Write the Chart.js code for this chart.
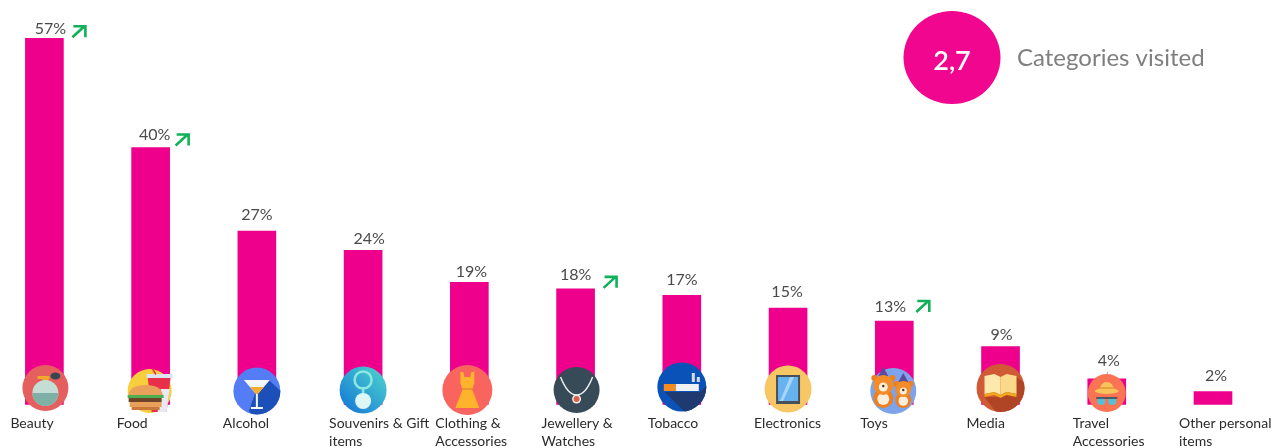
<!DOCTYPE html>
<html>
<head>
<meta charset="utf-8">
<title>Categories visited</title>
<script src="https://cdn.jsdelivr.net/npm/chart.js@4"></script>
<style>
  html, body { margin: 0; padding: 0; background: #fff; }
  canvas { display: block; }
</style>
</head>
<body>
<canvas id="grafico" width="1271" height="448"></canvas>
<script>
const categorias = [
  ['Beauty'], ['Food'], ['Alcohol'], ['Souvenirs & Gift', 'items'],
  ['Clothing &', 'Accessories'], ['Jewellery &', 'Watches'], ['Tobacco'], ['Electronics'],
  ['Toys'], ['Media'], ['Travel', 'Accessories'], ['Other personal', 'items']
];
const valores = [57, 40, 27, 24, 19, 18, 17, 15, 13, 9, 4, 2];
const enAumento = [true, true, false, false, false, true, false, false, true, false, false, false];
const promedioVisitadas = '2,7';
const textoPromedio = 'Categories visited';

const ROSA = '#EE008C';
const VERDE = '#10B15A';
const FUENTE = 'Lato, "Open Sans", sans-serif';

// label nudges from the top of each bar: [dx of text centre, baseline above bar]
const ajusteEtiquetas = [
  [6, 4], [4, 8], [0, 11], [6, 6], [2, 5], [0, 9], [0, 10], [-1, 11], [-4, 9], [1, 7], [2, 13], [3, 11]
];
// arrow box from the bar: [dx of left edge, dy of bottom edge]
const ajusteFlechas = { 0: [28, 0], 1: [25, -1], 5: [28, 0], 8: [22, -8] };

function disco(ctx, x, y, r, color) {
  ctx.fillStyle = color;
  ctx.beginPath();
  ctx.arc(x, y, r, 0, Math.PI * 2);
  ctx.fill();
}

function poligono(ctx, puntos, color) {
  ctx.fillStyle = color;
  ctx.beginPath();
  puntos.forEach((p, i) => (i ? ctx.lineTo(p[0], p[1]) : ctx.moveTo(p[0], p[1])));
  ctx.closePath();
  ctx.fill();
}

function caja(ctx, x, y, w, h, color) {
  ctx.fillStyle = color;
  ctx.fillRect(x, y, w, h);
}

function linea(ctx, puntos, color, ancho) {
  ctx.strokeStyle = color;
  ctx.lineWidth = ancho;
  ctx.lineCap = 'round';
  ctx.lineJoin = 'round';
  ctx.beginPath();
  puntos.forEach((p, i) => (i ? ctx.lineTo(p[0], p[1]) : ctx.moveTo(p[0], p[1])));
  ctx.stroke();
}

// small drawings that sit on the foot of each bar, origin at the disc centre
const iconos = [
  { dx: 1, y: 388, dibujar(ctx) {
    disco(ctx, 0, 0, 23, '#E55F5F');
    caja(ctx, -3, -9, 6, 6, '#F2A62B');
    caja(ctx, -8, -12, 12, 3, '#F2A62B');
    ctx.fillStyle = '#37474F';
    ctx.beginPath();
    ctx.ellipse(10, -12, 5, 3.5, 0, 0, Math.PI * 2);
    ctx.fill();
    disco(ctx, 0, 5, 13, '#C4DED6');
    ctx.save();
    ctx.beginPath();
    ctx.rect(-14, 5, 28, 14);
    ctx.clip();
    disco(ctx, 0, 5, 13, '#7FB0A5');
    ctx.restore();
  } },
  { dx: -1, y: 391, dibujar(ctx) {
    disco(ctx, 0, 0, 22, '#F9CE3C');
    poligono(ctx, [[-2, -14], [21, -14], [17, 21], [2, 21]], '#E8304A');
    poligono(ctx, [[11, -2], [20, -2], [17, 21], [8, 21]], '#E6EAF5');
    caja(ctx, -3, -17, 26, 4, '#DDE3F0');
    linea(ctx, [[6, -17], [3, -22]], '#E8304A', 1.5);
    ctx.fillStyle = '#E9A05B';
    ctx.beginPath();
    ctx.moveTo(-21, 4);
    ctx.quadraticCurveTo(-20, -6, -4, -6);
    ctx.quadraticCurveTo(12, -6, 13, 4);
    ctx.fill();
    caja(ctx, -22, 4, 36, 3, '#4CAF50');
    caja(ctx, -21, 7, 33, 4, '#6D4427');
    caja(ctx, -20, 11, 32, 5, '#E9A05B');
    caja(ctx, -18, 16, 28, 3, '#C9773A');
  } },
  { dx: 0, y: 391, dibujar(ctx) {
    disco(ctx, 0, 0, 23.5, '#537CF5');
    ctx.save();
    ctx.beginPath();
    ctx.arc(0, 0, 23.5, 0, Math.PI * 2);
    ctx.clip();
    poligono(ctx, [[12, -11], [30, 6], [30, 30], [0, 30], [-8, 20], [-1, 0]], '#1D4FB8');
    ctx.restore();
    poligono(ctx, [[-13, -11], [13, -11], [0, 4]], '#F4F7FA');
    poligono(ctx, [[-7, -4], [7, -4], [0, 4]], '#F4AD32');
    caja(ctx, -1, 3, 2, 14, '#F4F7FA');
    caja(ctx, -6, 16, 12, 2, '#F4F7FA');
  } },
  { dx: 0, y: 390, dibujar(ctx) {
    const fondo = ctx.createLinearGradient(-20, 20, 20, -20);
    fondo.addColorStop(0, '#1579D8');
    fondo.addColorStop(1, '#4BD0CC');
    disco(ctx, 0, 0, 23.5, fondo);
    ctx.strokeStyle = '#8CE8E0';
    ctx.lineWidth = 2.5;
    ctx.beginPath();
    ctx.arc(0, -10, 8.5, 0, Math.PI * 2);
    ctx.stroke();
    linea(ctx, [[0, -2], [0, 4]], '#8CE8E0', 2.5);
    disco(ctx, 0, 11, 8, '#DDF6F6');
  } },
  { dx: -2, y: 390, dibujar(ctx) {
    disco(ctx, 0, 0, 25, '#F9645F');
    poligono(ctx, [[-7, -18], [-4, -18], [-3, -13], [3, -13], [4, -18], [7, -18], [7, -7], [5, -1], [-5, -1], [-7, -7]], '#FDB32B');
    caja(ctx, -5, -2, 10, 2, '#E8952A');
    poligono(ctx, [[-5, 0], [5, 0], [12, 18], [-12, 18]], '#FDB32B');
  } },
  { dx: 1, y: 390, dibujar(ctx) {
    disco(ctx, 0, 0, 23, '#364A57');
    ctx.strokeStyle = '#E8EEF0';
    ctx.lineWidth = 1.5;
    ctx.beginPath();
    ctx.moveTo(-16, -13);
    ctx.quadraticCurveTo(-9, 5, 0, 5);
    ctx.quadraticCurveTo(9, 5, 16, -13);
    ctx.stroke();
    disco(ctx, 0, 9, 4.5, '#F3EDE4');
    disco(ctx, 0, 9, 3, '#D9604C');
  } },
  { dx: 0, y: 387, dibujar(ctx) {
    disco(ctx, 0, 0, 24.5, '#0B52B8');
    ctx.save();
    ctx.beginPath();
    ctx.arc(0, 0, 24.5, 0, Math.PI * 2);
    ctx.clip();
    poligono(ctx, [[-17, 5], [18, 5], [30, -6], [30, 30], [8, 30]], '#1E3A70');
    ctx.restore();
    caja(ctx, -18, -3, 12, 7, '#F68B1F');
    caja(ctx, -6, -3, 23, 7, '#EEF1F6');
    caja(ctx, 10, -14, 3, 9, '#D5DCE8');
    caja(ctx, 15, -10, 3, 5, '#D5DCE8');
  } },
  { dx: 0, y: 389, dibujar(ctx) {
    disco(ctx, 0, 0, 23.5, '#F7C766');
    caja(ctx, -12, -14, 24, 29, '#46505C');
    caja(ctx, -10, -12, 20, 24, '#67B3F0');
    poligono(ctx, [[2, -12], [6, -12], [-5, 12], [-8, 12]], '#A9D6F7');
  } },
  { dx: -1, y: 391, dibujar(ctx) {
    disco(ctx, 0, 0, 23, '#7DA3EA');
    const oso = (x, y, r) => {
      poligono(ctx, [[x - 5, y - r + 1], [x + 5, y - r + 1], [x, y - r - 8]], '#5C4B9C');
      disco(ctx, x - r + 1, y - r + 3, 3, '#EE7F1E');
      disco(ctx, x + r - 1, y - r + 3, 3, '#EE7F1E');
      disco(ctx, x, y + r + 3, r, '#EE7F1E');
      disco(ctx, x, y + r + 4, r * 0.6, '#FBEEDD');
      disco(ctx, x, y, r, '#F28C28');
      disco(ctx, x, y + 2, r * 0.45, '#FBEEDD');
      disco(ctx, x, y + 1, 1.2, '#5A2D0C');
    };
    oso(10, -2, 8);
    oso(-10, -6, 10);
  } },
  { dx: 0, y: 388, dibujar(ctx) {
    disco(ctx, 0, 0, 24, '#CF5A35');
    ctx.save();
    ctx.beginPath();
    ctx.arc(0, 0, 24, 0, Math.PI * 2);
    ctx.clip();
    poligono(ctx, [[15, -12], [30, 0], [30, 30], [0, 30], [-16, 9], [0, 9]], '#B04525');
    ctx.restore();
    poligono(ctx, [[-16, -12], [-6, -14], [0, -11], [0, 7], [-6, 4], [-16, 6]], '#FDE9AE');
    poligono(ctx, [[16, -12], [6, -14], [0, -11], [0, 7], [6, 4], [16, 6]], '#FBD98B');
    poligono(ctx, [[-16, 6], [-6, 4], [0, 7], [6, 4], [16, 6], [16, 9], [6, 7], [0, 10], [-6, 7], [-16, 9]], '#F2A81D');
  } },
  { dx: 0, y: 393, dibujar(ctx) {
    linea(ctx, [[1, -21], [0, -18]], '#9A9A9A', 0.8);
    disco(ctx, 0, 0, 19, '#FA7353');
    ctx.fillStyle = '#F7C35B';
    ctx.beginPath();
    ctx.ellipse(0, -3, 7, 8, 0, Math.PI, 0);
    ctx.fill();
    ctx.beginPath();
    ctx.ellipse(0, -2, 12, 3, 0, 0, Math.PI * 2);
    ctx.fill();
    caja(ctx, -7, -6, 14, 2, '#E9A13B');
    disco(ctx, -5.5, 8, 4, '#54C0D8');
    disco(ctx, 5.5, 8, 4, '#54C0D8');
    linea(ctx, [[-10, 5], [10, 5]], '#2F4858', 1.5);
  } },
  null
];

const dibujoExtra = {
  id: 'dibujoExtra',
  afterDatasetsDraw(chart) {
    const ctx = chart.ctx;
    const barras = chart.getDatasetMeta(0).data;
    ctx.save();

    barras.forEach((barra, i) => {
      // disc with the category drawing
      if (iconos[i]) {
        ctx.save();
        ctx.translate(barra.x + iconos[i].dx, iconos[i].y);
        iconos[i].dibujar(ctx);
        ctx.restore();
      }

      // value above the bar
      const ajuste = ajusteEtiquetas[i];
      ctx.font = '16px ' + FUENTE;
      ctx.fillStyle = '#4A4A4A';
      ctx.textAlign = 'center';
      ctx.textBaseline = 'alphabetic';
      ctx.fillText(valores[i] + '%', barra.x + ajuste[0], barra.y - ajuste[1]);

      // green arrow for the categories going up
      if (enAumento[i]) {
        const x = barra.x + ajusteFlechas[i][0];
        const y = barra.y + ajusteFlechas[i][1];
        ctx.save();
        ctx.lineCap = 'butt';
        ctx.lineJoin = 'miter';
        ctx.strokeStyle = VERDE;
        ctx.lineWidth = 2.6;
        ctx.beginPath();
        ctx.moveTo(x, y - 1);
        ctx.lineTo(x + 12, y - 12);
        ctx.moveTo(x + 1, y - 12);
        ctx.lineTo(x + 13, y - 12);
        ctx.lineTo(x + 13, y - 1);
        ctx.stroke();
        ctx.restore();
      }

      // category name, left aligned under the bar
      ctx.font = '14px ' + FUENTE;
      ctx.fillStyle = '#2B2B2B';
      ctx.textAlign = 'left';
      categorias[i].forEach((texto, n) => {
        ctx.fillText(texto, barra.x - 34, 428 + n * 18);
      });
    });

    // average bubble in the top right corner
    ctx.fillStyle = '#F0068F';
    ctx.beginPath();
    ctx.ellipse(952, 57.5, 48.5, 46.5, 0, 0, Math.PI * 2);
    ctx.fill();
    ctx.font = '600 27px ' + FUENTE;
    ctx.fillStyle = '#fff';
    ctx.textAlign = 'center';
    ctx.fillText(promedioVisitadas, 952, 70);
    ctx.font = '24px ' + FUENTE;
    ctx.fillStyle = '#7F7F7F';
    ctx.textAlign = 'left';
    ctx.fillText(textoPromedio, 1017, 66);

    ctx.restore();
  }
};

new Chart(document.getElementById('grafico').getContext('2d'), {
  type: 'bar',
  data: {
    labels: categorias,
    datasets: [{
      data: valores,
      backgroundColor: ROSA,
      barThickness: 38,
      clip: false
    }]
  },
  options: {
    responsive: false,
    animation: false,
    layout: { padding: { left: 44.4, right: 58, top: 19, bottom: 43.5 } },
    plugins: { legend: { display: false }, tooltip: { enabled: false } },
    scales: {
      x: { display: false, offset: false },
      y: { display: false, min: 0, max: 60 }
    }
  },
  plugins: [dibujoExtra]
});
</script>
</body>
</html>
